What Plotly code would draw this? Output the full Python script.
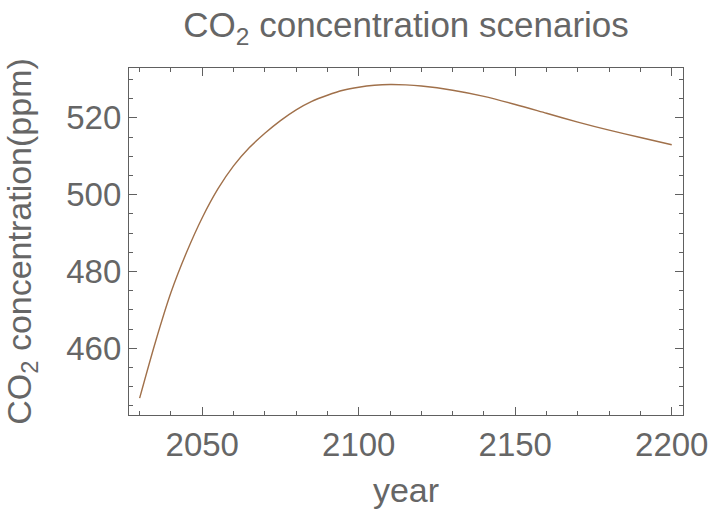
import plotly.graph_objects as go

years = [2030, 2035, 2040, 2045, 2050, 2055, 2060, 2065, 2070, 2075, 2080, 2085, 2090, 2095, 2100, 2105, 2110, 2115, 2120, 2130, 2140, 2150, 2160, 2170, 2180, 2190, 2200]
co2 = [447.0, 461.5, 474.5, 485.0, 494.0, 501.5, 507.5, 512.2, 516.0, 519.3, 522.1, 524.3, 525.9, 527.2, 528.0, 528.5, 528.7, 528.6, 528.3, 527.2, 525.6, 523.5, 521.2, 518.9, 516.8, 514.9, 513.0]

x_ticks = [2050, 2100, 2150, 2200]
y_ticks = [460, 480, 500, 520]

TXT = "#666666"
FRAME = "#606060"
FONT = "Liberation Sans, Arial, sans-serif"

fig = go.Figure()
fig.add_trace(go.Scatter(x=years, y=co2, mode="lines",
                         line=dict(color="#a0704a", width=1.4, shape="spline", smoothing=0.8),
                         showlegend=False, hoverinfo="skip"))

axis_common = dict(showgrid=False, zeroline=False, showline=True, linecolor=FRAME, linewidth=1.3,
                   mirror="allticks", ticks="inside", ticklen=8, tickwidth=1.2, tickcolor=FRAME,
                   tickfont=dict(family=FONT, size=33, color=TXT))

fig.update_xaxes(**axis_common, range=[2026.6, 2203.6], tickvals=x_ticks,
                 minor=dict(dtick=10, tick0=2000, ticklen=4, tickwidth=1, tickcolor=FRAME, ticks="inside"),
                 title=dict(text="year", font=dict(family=FONT, size=34, color=TXT), standoff=16))
fig.update_yaxes(**axis_common, range=[442.6, 533], tickvals=y_ticks,
                 minor=dict(dtick=5, tick0=0, ticklen=4, tickwidth=1, tickcolor=FRAME, ticks="inside"),
                 title=dict(text="CO<sub>2</sub> concentration(ppm)", font=dict(family=FONT, size=34, color=TXT), standoff=26))

fig.update_layout(
    width=720, height=515,
    margin=dict(l=129, r=30, t=68, b=100),
    paper_bgcolor="white", plot_bgcolor="white",
    title=dict(text="CO<sub>2</sub> concentration scenarios", x=0.564, xanchor="center", y=0.975, yanchor="top",
               font=dict(family=FONT, size=35, color=TXT)),
)

fig.write_html("out.html")
